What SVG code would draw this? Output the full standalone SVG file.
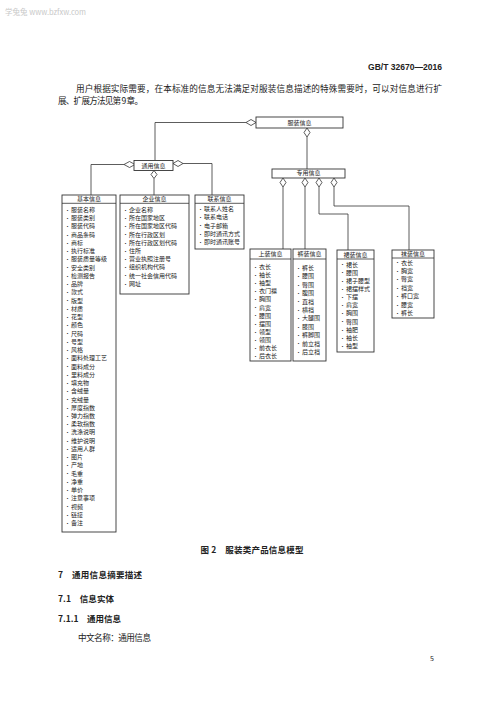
<svg xmlns="http://www.w3.org/2000/svg" width="500" height="706" viewBox="0 0 500 706">
<style>
text{font-family:"Noto Sans CJK SC","Noto Sans",sans-serif;fill:#222}
.box{fill:#fff;stroke:#333;stroke-width:0.9}
.sep{stroke:#333;stroke-width:0.8}
.hd{font-size:6px;text-anchor:middle}
.it{font-size:6px}
.bl{font-size:5px}
.con path{fill:none;stroke:#333;stroke-width:0.8}
.dia{fill:#fff;stroke:#333;stroke-width:0.8}
.body{font-size:8.6px}
.bold{font-weight:bold}
</style>
<rect width="500" height="706" fill="#fff"/>
<text x="5" y="15" style="font-size:7.5px;fill:#c8c8c8">学兔兔 www.bzfxw.com</text>
<text x="442" y="70" text-anchor="end" style="font-family:'Liberation Sans',sans-serif;font-size:8.5px;font-weight:bold" textLength="74" lengthAdjust="spacingAndGlyphs">GB/T 32670—2016</text>
<text class="body" x="76" y="91.5" textLength="366" lengthAdjust="spacing">用户根据实际需要，在本标准的信息无法满足对服装信息描述的特殊需要时，可以对信息进行扩</text>
<text class="body" x="58" y="103.5" textLength="85" lengthAdjust="spacing">展、扩展方法见第 9 章。</text>

<g class="con" id="connectors">
<path d="M246,122.5 H155 V160.5"/>
<path d="M307,137 V169"/>
<path d="M124,164.5 H91 V195"/>
<path d="M183,163.5 H212 V195"/>
<path d="M154,178.5 V195"/>
<path d="M283,187 V249"/>
<path d="M305,187 V249"/>
<path d="M319,187 V214 H348 V250"/>
<path d="M334,187 V206 H409 V250"/>
<path class="dia" d="M246,122.5 L251,119.5 L256,122.5 L251,125.5 Z"/>
<path class="dia" d="M307,128 L310,132.5 L307,137 L304,132.5 Z"/>
<path class="dia" d="M124,164.5 L129.5,161.5 L135,164.5 L129.5,167.5 Z"/>
<path class="dia" d="M173,163.5 L178,160.5 L183,163.5 L178,166.5 Z"/>
<path class="dia" d="M154,170.5 L157,174.5 L154,178.5 L151,174.5 Z"/>
<path class="dia" d="M283,178 L286,182.5 L283,187 L280,182.5 Z"/>
<path class="dia" d="M305,178 L308,182.5 L305,187 L302,182.5 Z"/>
<path class="dia" d="M319,178 L322,182.5 L319,187 L316,182.5 Z"/>
<path class="dia" d="M334,178 L337,182.5 L334,187 L331,182.5 Z"/>
</g>

<g id="n-fuzhuang">
<rect class="box" x="256" y="117" width="87" height="11"/>
<text class="hd" x="299.5" y="124.8">服装信息</text>
</g>
<g id="n-tongyong">
<rect class="box" x="134" y="160.5" width="39" height="10"/>
<text class="hd" x="153.5" y="167.7">通用信息</text>
</g>
<g id="n-zhuanyong">
<rect class="box" x="272" y="169" width="73" height="9"/>
<text class="hd" x="308.5" y="175.4">专用信息</text>
</g>

<g id="n-jiben">
<rect class="box" x="62" y="195" width="54" height="337"/>
<line class="sep" x1="62" y1="203.3" x2="116" y2="203.3"/>
<text class="hd" x="89" y="201.3">基本信息</text>
<text class="bl" x="65">
<tspan x="65" y="211.8">•</tspan><tspan x="65" dy="8.24">•</tspan><tspan x="65" dy="8.24">•</tspan><tspan x="65" dy="8.24">•</tspan><tspan x="65" dy="8.24">•</tspan><tspan x="65" dy="8.24">•</tspan><tspan x="65" dy="8.24">•</tspan><tspan x="65" dy="8.24">•</tspan><tspan x="65" dy="8.24">•</tspan><tspan x="65" dy="8.24">•</tspan><tspan x="65" dy="8.24">•</tspan><tspan x="65" dy="8.24">•</tspan><tspan x="65" dy="8.24">•</tspan><tspan x="65" dy="8.24">•</tspan><tspan x="65" dy="8.24">•</tspan><tspan x="65" dy="8.24">•</tspan><tspan x="65" dy="8.24">•</tspan><tspan x="65" dy="8.24">•</tspan><tspan x="65" dy="8.24">•</tspan><tspan x="65" dy="8.24">•</tspan><tspan x="65" dy="8.24">•</tspan><tspan x="65" dy="8.24">•</tspan><tspan x="65" dy="8.24">•</tspan><tspan x="65" dy="8.24">•</tspan><tspan x="65" dy="8.24">•</tspan><tspan x="65" dy="8.24">•</tspan><tspan x="65" dy="8.24">•</tspan><tspan x="65" dy="8.24">•</tspan><tspan x="65" dy="8.24">•</tspan><tspan x="65" dy="8.24">•</tspan><tspan x="65" dy="8.24">•</tspan><tspan x="65" dy="8.24">•</tspan><tspan x="65" dy="8.24">•</tspan><tspan x="65" dy="8.24">•</tspan><tspan x="65" dy="8.24">•</tspan><tspan x="65" dy="8.24">•</tspan><tspan x="65" dy="8.24">•</tspan><tspan x="65" dy="8.24">•</tspan><tspan x="65" dy="8.24">•</tspan>
</text>
<text class="it">
<tspan x="71" y="212">服装名称</tspan><tspan x="71" dy="8.24">服装类别</tspan><tspan x="71" dy="8.24">服装代码</tspan><tspan x="71" dy="8.24">商品条码</tspan><tspan x="71" dy="8.24">商标</tspan><tspan x="71" dy="8.24">执行标准</tspan><tspan x="71" dy="8.24">服装质量等级</tspan><tspan x="71" dy="8.24">安全类别</tspan><tspan x="71" dy="8.24">检测报告</tspan><tspan x="71" dy="8.24">品牌</tspan><tspan x="71" dy="8.24">款式</tspan><tspan x="71" dy="8.24">版型</tspan><tspan x="71" dy="8.24">材质</tspan><tspan x="71" dy="8.24">花型</tspan><tspan x="71" dy="8.24">颜色</tspan><tspan x="71" dy="8.24">尺码</tspan><tspan x="71" dy="8.24">号型</tspan><tspan x="71" dy="8.24">风格</tspan><tspan x="71" dy="8.24">面料处理工艺</tspan><tspan x="71" dy="8.24">面料成分</tspan><tspan x="71" dy="8.24">里料成分</tspan><tspan x="71" dy="8.24">填充物</tspan><tspan x="71" dy="8.24">含绒量</tspan><tspan x="71" dy="8.24">充绒量</tspan><tspan x="71" dy="8.24">厚度指数</tspan><tspan x="71" dy="8.24">弹力指数</tspan><tspan x="71" dy="8.24">柔软指数</tspan><tspan x="71" dy="8.24">洗涤说明</tspan><tspan x="71" dy="8.24">维护说明</tspan><tspan x="71" dy="8.24">适用人群</tspan><tspan x="71" dy="8.24">图片</tspan><tspan x="71" dy="8.24">产地</tspan><tspan x="71" dy="8.24">毛重</tspan><tspan x="71" dy="8.24">净重</tspan><tspan x="71" dy="8.24">单价</tspan><tspan x="71" dy="8.24">注意事项</tspan><tspan x="71" dy="8.24">视频</tspan><tspan x="71" dy="8.24">链接</tspan><tspan x="71" dy="8.24">备注</tspan>
</text>
</g>

<g id="n-qiye">
<rect class="box" x="120" y="195" width="69" height="99"/>
<line class="sep" x1="120" y1="203.3" x2="189" y2="203.3"/>
<text class="hd" x="154.5" y="201.3">企业信息</text>
<text class="bl">
<tspan x="123" y="211.8">•</tspan><tspan x="123" dy="8.2">•</tspan><tspan x="123" dy="8.2">•</tspan><tspan x="123" dy="8.2">•</tspan><tspan x="123" dy="8.2">•</tspan><tspan x="123" dy="8.2">•</tspan><tspan x="123" dy="8.2">•</tspan><tspan x="123" dy="8.2">•</tspan><tspan x="123" dy="8.2">•</tspan><tspan x="123" dy="8.2">•</tspan>
</text>
<text class="it">
<tspan x="129" y="212">企业名称</tspan><tspan x="129" dy="8.2">所在国家地区</tspan><tspan x="129" dy="8.2">所在国家地区代码</tspan><tspan x="129" dy="8.2">所在行政区划</tspan><tspan x="129" dy="8.2">所在行政区划代码</tspan><tspan x="129" dy="8.2">住所</tspan><tspan x="129" dy="8.2">营业执照注册号</tspan><tspan x="129" dy="8.2">组织机构代码</tspan><tspan x="129" dy="8.2">统一社会信用代码</tspan><tspan x="129" dy="8.2">网址</tspan>
</text>
</g>

<g id="n-lianxi">
<rect class="box" x="195" y="195" width="49" height="54"/>
<line class="sep" x1="195" y1="203.3" x2="244" y2="203.3"/>
<text class="hd" x="219.5" y="201.3">联系信息</text>
<text class="bl">
<tspan x="198" y="210.8">•</tspan><tspan x="198" dy="8.25">•</tspan><tspan x="198" dy="8.25">•</tspan><tspan x="198" dy="8.25">•</tspan><tspan x="198" dy="8.25">•</tspan>
</text>
<text class="it">
<tspan x="204" y="211">联系人姓名</tspan><tspan x="204" dy="8.25">联系电话</tspan><tspan x="204" dy="8.25">电子邮箱</tspan><tspan x="204" dy="8.25">即时通讯方式</tspan><tspan x="204" dy="8.25">即时通讯账号</tspan>
</text>
</g>

<g id="n-shangzhuang">
<rect class="box" x="250" y="249" width="41" height="112"/>
<line class="sep" x1="250" y1="259" x2="291" y2="259"/>
<text class="hd" x="270.5" y="256.3">上装信息</text>
<text class="bl">
<tspan x="253" y="268.8">•</tspan><tspan x="253" dy="8.1">•</tspan><tspan x="253" dy="8.1">•</tspan><tspan x="253" dy="8.1">•</tspan><tspan x="253" dy="8.1">•</tspan><tspan x="253" dy="8.1">•</tspan><tspan x="253" dy="8.1">•</tspan><tspan x="253" dy="8.1">•</tspan><tspan x="253" dy="8.1">•</tspan><tspan x="253" dy="8.1">•</tspan><tspan x="253" dy="8.1">•</tspan><tspan x="253" dy="8.1">•</tspan>
</text>
<text class="it">
<tspan x="259" y="269">衣长</tspan><tspan x="259" dy="8.1">袖长</tspan><tspan x="259" dy="8.1">袖型</tspan><tspan x="259" dy="8.1">衣门襟</tspan><tspan x="259" dy="8.1">胸围</tspan><tspan x="259" dy="8.1">肩宽</tspan><tspan x="259" dy="8.1">腰围</tspan><tspan x="259" dy="8.1">摆围</tspan><tspan x="259" dy="8.1">领型</tspan><tspan x="259" dy="8.1">领围</tspan><tspan x="259" dy="8.1">前衣长</tspan><tspan x="259" dy="8.1">后衣长</tspan>
</text>
</g>

<g id="n-kuzhuang">
<rect class="box" x="293" y="249" width="33" height="112"/>
<line class="sep" x1="293" y1="259" x2="326" y2="259"/>
<text class="hd" x="309.5" y="256.3">裤装信息</text>
<text class="bl">
<tspan x="296" y="269.8">•</tspan><tspan x="296" dy="8.4">•</tspan><tspan x="296" dy="8.4">•</tspan><tspan x="296" dy="8.4">•</tspan><tspan x="296" dy="8.4">•</tspan><tspan x="296" dy="8.4">•</tspan><tspan x="296" dy="8.4">•</tspan><tspan x="296" dy="8.4">•</tspan><tspan x="296" dy="8.4">•</tspan><tspan x="296" dy="8.4">•</tspan><tspan x="296" dy="8.4">•</tspan>
</text>
<text class="it">
<tspan x="302" y="270">裤长</tspan><tspan x="302" dy="8.4">腰围</tspan><tspan x="302" dy="8.4">臀围</tspan><tspan x="302" dy="8.4">腹围</tspan><tspan x="302" dy="8.4">直裆</tspan><tspan x="302" dy="8.4">横裆</tspan><tspan x="302" dy="8.4">大腿围</tspan><tspan x="302" dy="8.4">膝围</tspan><tspan x="302" dy="8.4">裤脚围</tspan><tspan x="302" dy="8.4">前立裆</tspan><tspan x="302" dy="8.4">后立裆</tspan>
</text>
</g>

<g id="n-qunzhuang">
<rect class="box" x="337" y="250" width="37" height="102"/>
<line class="sep" x1="337" y1="259" x2="374" y2="259"/>
<text class="hd" x="355.5" y="256.5">裙装信息</text>
<text class="bl">
<tspan x="340" y="266.3">•</tspan><tspan x="340" dy="8.15">•</tspan><tspan x="340" dy="8.15">•</tspan><tspan x="340" dy="8.15">•</tspan><tspan x="340" dy="8.15">•</tspan><tspan x="340" dy="8.15">•</tspan><tspan x="340" dy="8.15">•</tspan><tspan x="340" dy="8.15">•</tspan><tspan x="340" dy="8.15">•</tspan><tspan x="340" dy="8.15">•</tspan><tspan x="340" dy="8.15">•</tspan>
</text>
<text class="it">
<tspan x="346" y="266.5">裙长</tspan><tspan x="346" dy="8.15">腰围</tspan><tspan x="346" dy="8.15">裙子腰型</tspan><tspan x="346" dy="8.15">裙摆样式</tspan><tspan x="346" dy="8.15">下摆</tspan><tspan x="346" dy="8.15">肩宽</tspan><tspan x="346" dy="8.15">胸围</tspan><tspan x="346" dy="8.15">臀围</tspan><tspan x="346" dy="8.15">袖肥</tspan><tspan x="346" dy="8.15">袖长</tspan><tspan x="346" dy="8.15">袖型</tspan>
</text>
</g>

<g id="n-wazhuang">
<rect class="box" x="392" y="250" width="42" height="68"/>
<line class="sep" x1="392" y1="258" x2="434" y2="258"/>
<text class="hd" x="413" y="255.8">袜装信息</text>
<text class="bl">
<tspan x="395" y="264.3">•</tspan><tspan x="395" dy="8.45">•</tspan><tspan x="395" dy="8.45">•</tspan><tspan x="395" dy="8.45">•</tspan><tspan x="395" dy="8.45">•</tspan><tspan x="395" dy="8.45">•</tspan><tspan x="395" dy="8.45">•</tspan>
</text>
<text class="it">
<tspan x="401" y="264.5">衣长</tspan><tspan x="401" dy="8.45">胸宽</tspan><tspan x="401" dy="8.45">臀宽</tspan><tspan x="401" dy="8.45">裆宽</tspan><tspan x="401" dy="8.45">裤口宽</tspan><tspan x="401" dy="8.45">腰宽</tspan><tspan x="401" dy="8.45">裤长</tspan>
</text>
</g>

<text class="bold" x="252" y="553" text-anchor="middle" style="font-size:8.5px" textLength="103" lengthAdjust="spacing">图 2　服装类产品信息模型</text>
<text class="bold" x="58" y="578" style="font-size:8.5px" textLength="84" lengthAdjust="spacing">7　通用信息摘要描述</text>
<text class="bold" x="58" y="602" style="font-size:8.5px" textLength="56" lengthAdjust="spacing">7.1　信息实体</text>
<text class="bold" x="58" y="622" style="font-size:8.5px" textLength="63" lengthAdjust="spacing">7.1.1　通用信息</text>
<text class="body" x="78" y="641" textLength="73" lengthAdjust="spacing">中文名称：通用信息</text>
<text x="430" y="660.5" style="font-size:7px">5</text>
</svg>
